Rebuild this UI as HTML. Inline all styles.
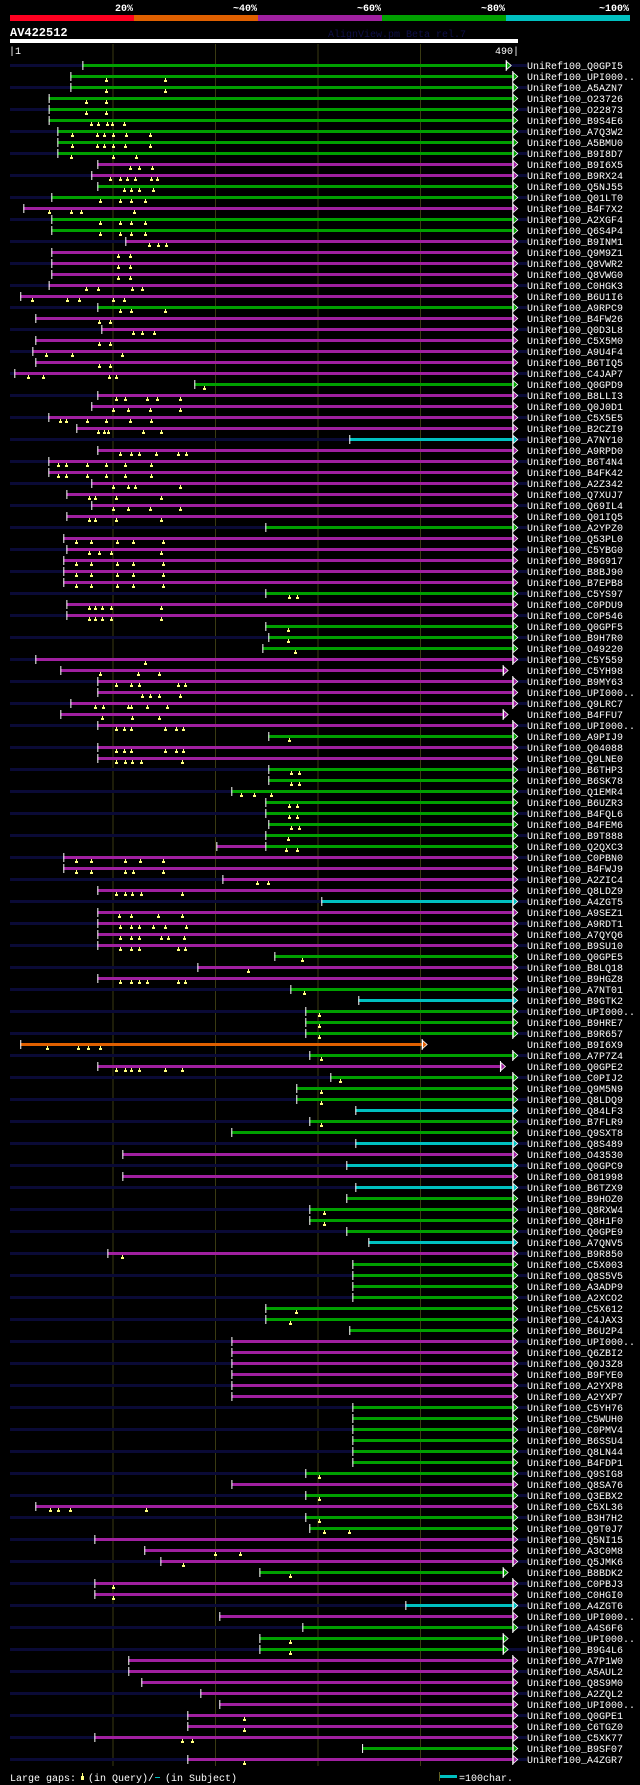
<!DOCTYPE html>
<html><head><meta charset="utf-8"><style>
html,body{margin:0;padding:0;background:#000;}
svg{display:block;}
text{font-family:"Liberation Mono",monospace;}
</style></head><body>
<svg id="chart" width="640" height="1785" viewBox="0 0 640 1785" xmlns="http://www.w3.org/2000/svg">
<rect x="0" y="0" width="640" height="1785" fill="#000"/>
<g>
<rect x="10" y="15" width="124" height="6" fill="#ff0020"/>
<rect x="134" y="15" width="124" height="6" fill="#e06000"/>
<rect x="258" y="15" width="124" height="6" fill="#a020a0"/>
<rect x="382" y="15" width="124" height="6" fill="#00a000"/>
<rect x="506" y="15" width="124" height="6" fill="#00c0c0"/>
<text x="133" y="11" fill="#fff" font-size="10" font-weight="bold" text-anchor="end">20%</text>
<text x="257" y="11" fill="#fff" font-size="10" font-weight="bold" text-anchor="end">~40%</text>
<text x="381" y="11" fill="#fff" font-size="10" font-weight="bold" text-anchor="end">~60%</text>
<text x="505" y="11" fill="#fff" font-size="10" font-weight="bold" text-anchor="end">~80%</text>
<text x="629" y="11" fill="#fff" font-size="10" font-weight="bold" text-anchor="end">~100%</text>
</g>
<text x="10" y="36" fill="#fff" font-size="12" font-weight="bold">AV422512</text>
<text x="328" y="37" fill="#101048" font-size="10">AlignView.pm Beta rel.7</text>
<rect x="10" y="39" width="508" height="4" fill="#fff"/>
<text x="9" y="54" fill="#fff" font-size="10">|1</text>
<text x="519" y="54" fill="#fff" font-size="10" text-anchor="end">490|</text>
<g id="grid"></g>
<g id="rows"></g>
<g>
<text x="10" y="1781" fill="#fff" font-size="10">Large gaps:</text>
<rect x="82" y="1773" width="1" height="3" fill="#ffff80"/>
<rect x="81" y="1776" width="3" height="4" fill="#ffff80"/>
<text x="88" y="1781" fill="#fff" font-size="10">(in Query)/</text>
<rect x="155" y="1777" width="5" height="1" fill="#00c0c0"/>
<text x="165" y="1781" fill="#fff" font-size="10">(in Subject)</text>
<rect x="439" y="1772" width="1" height="9" fill="#606020"/>
<rect x="440" y="1775" width="17" height="3" fill="#00c0c0"/>
<text x="459" y="1781" fill="#fff" font-size="10">=100char.</text>
</g>
</svg>
<script>
const names = ["Q0GPI5","UPI000..","A5AZN7","O23726","O22873","B9S4E6","A7Q3W2","A5BMU0","B9I8D7","B9I6X5","B9RX24","Q5NJ55","Q01LT0","B4F7X2","A2XGF4","Q6S4P4","B9INM1","Q9M9Z1","Q8VWR2","Q8VWG0","C0HGK3","B6U1I6","A9RPC9","B4FW26","Q0D3L8","C5X5M0","A9U4F4","B6TIQ5","C4JAP7","Q0GPD9","B8LLI3","Q0J0D1","C5X5E5","B2CZI9","A7NY10","A9RPD0","B6T4N4","B4FK42","A2Z342","Q7XUJ7","Q69IL4","Q01IQ5","A2YPZ0","Q53PL0","C5YBG0","B9G917","B8BJ90","B7EPB8","C5YS97","C0PDU9","C0P546","Q0GPF5","B9H7R0","O49220","C5Y559","C5YH98","B9MY63","UPI000..","Q9LRC7","B4FFU7","UPI000..","A9PIJ9","Q04088","Q9LNE0","B6THP3","B6SK78","Q1EMR4","B6UZR3","B4FQL6","B4FEM6","B9T888","Q2QXC3","C0PBN0","B4FWJ9","A2ZIC4","Q8LDZ9","A4ZGT5","A9SEZ1","A9RDT1","A7QYQ6","B9SU10","Q0GPE5","B8LQ18","B9HGZ8","A7NT01","B9GTK2","UPI000..","B9HRE7","B9R657","B9I6X9","A7P7Z4","Q0GPE2","C0PIJ2","Q9M5N9","Q8LDQ9","Q84LF3","B7FLR9","Q9SXT8","Q8S489","O43530","Q0GPC9","O81998","B6TZX9","B9HOZ0","Q8RXW4","Q8H1F0","Q0GPE9","A7QNV5","B9R850","C5X003","Q8S5V5","A3ADP9","A2XCO2","C5X612","C4JAX3","B6U2P4","UPI000..","Q6ZBI2","Q0J3Z8","B9FYE0","A2YXP8","A2YXP7","C5YH76","C5WUH0","C0PMV4","B6SSU4","Q8LN44","B4FDP1","Q9SIG8","Q8SA76","Q3EBX2","C5XL36","B3H7H2","Q9T0J7","Q5NI15","A3C0M8","Q5JMK6","B8BDK2","C0PBJ3","C0HGI0","A4ZGT6","UPI000..","A4S6F6","UPI000..","B9G4L6","A7P1W0","A5AUL2","Q8S9M0","A2ZQL2","UPI000..","Q0GPE1","C6TGZ0","C5XK77","B9SF07","A4ZGR7"];
const starts = [70.6,58.9,58.9,37.7,37.7,37.7,46.2,46.2,46.2,85.2,79.3,85.2,40.3,13,40.3,40.3,112.5,40.3,40.3,40.3,37.7,10,85.2,24.7,89.1,24.7,21.8,24.7,4.2,179.8,85.2,79.3,37.4,64.7,331,85.2,37.4,37.4,79.3,55,79.3,55,249.1,52,55,52,52,52,249.1,55,55,249.1,252,246.2,24.7,49.1,85.2,85.2,58.9,49.1,85.2,252,85.2,85.2,252,252,215.9,249.1,249.1,252,249.1,249.1,52,52,207.2,85.2,303.7,85.2,85.2,85.2,85.2,257.9,182.8,85.2,273.5,339.8,288.1,288.1,288.1,10,292,85.2,312.5,279.3,279.3,336.9,292,215.9,336.9,109.6,328.1,109.6,336.9,328.1,292,292,328.1,349.6,95,334,334,334,334,249.1,249.1,331,216,216,216,216,216,216,334,334,334,334,334,334,288.1,216,288.1,24.7,288.1,292,82.3,131,146.7,243.3,82.3,82.3,385.7,204.2,285.2,243.3,243.3,115.4,115.4,128.1,185.7,204.2,173,173,82.3,343.5,173];
const ends = {0:483.6,55:480.6,59:480.6,89:401.6,91:478,137:480.6,143:480.6,144:480.6};
const colorCodes = "GGGGGGGGGM"+"MGGMGGMMMM"+"MMGMMMMMMG"+"MMMMCMMMMM"+"MMGMMMMMGM"+"MGGGMMMMMM"+"MGMMGGGGGG"+"GGMMMMCMMM"+"MGMMGCGGGO"+"GMGGGCGGCM"+"CMCGGGGCMG"+"GGGGGGMMMM"+"MMGGGGGGGM"+"GMGGMMMGMM"+"CMGGGMMMMM"+"MMMGM";
const preSegments = {71:[201.3,249.1]};
const markers = {0:[],1:[94,151.5],2:[94,151.5],3:[74.5,94],4:[74.5,94],5:[79.3,86.2,95,99.8,111.5],6:[60.8,85.2,92,100.8,113.5,137],7:[60.8,85.2,92,100.8,112.5,137],8:[59.8,100.8,123.3],9:[117.4,126.2,138.9],10:[97.9,107.6,114.5,122.3,137.9,143.7],11:[111.5,118.4,126.2,139.8],12:[88.1,107.6,118.4,132],13:[38.4,59.8,69.6,121.3],14:[88.1,107.6,118.4,132],15:[88.1,107.6,118.4,132],16:[136,144.7,152.5],17:[105.7,117.4],18:[105.7,117.4],19:[105.7,117.4],20:[74.5,86.2,119.3,129.1],21:[21.8,55.9,67.6,100.8,111.5],22:[107.6,118.4,151.5],23:[87.2,97.9],24:[120.3,129.1,140.8],25:[87.2,97.9],26:[35.4,60.8,109.6],27:[87.2,97.9],28:[17.9,32.5,96.9,103.7],29:[189.6],30:[103.7,112.5,134,143.7,166.2],31:[100.8,115.4,136.9,166.2],32:[49.1,55,75.4,94,117.4,137.9],33:[86.2,92,95.9,130.1,147.6],35:[107.6,118.4,126.2,142.8,164.2,172],36:[47.2,55,75.4,94,112.5,137.9],37:[47.2,55,75.4,94,112.5,137.9],38:[100.8,115.4,122.3,166.2],39:[77.4,83.3,103.7,147.6],40:[100.8,115.4,136.9,166.2],41:[77.4,83.3,103.7,147.6],43:[64.7,79.3,104.7,120.3,149.6],44:[77.4,87.2,98.9,147.6],45:[64.7,79.3,104.7,120.3,149.6],46:[64.7,79.3,104.7,120.3,149.6],47:[64.7,79.3,104.7,120.3,149.6],48:[272.5,280.3],49:[77.4,83.3,90.1,98.9,147.6],50:[77.4,83.3,90.1,98.9,147.6],51:[271.5],52:[271.5],53:[278.4],54:[132],55:[88.1,125.2,145.7],56:[103.7,118.4,126.2,164.2,171],57:[129.1,136.9,145.7,166.2],58:[83.3,91.1,115.4,118.4,134,153.5],59:[90.1,119.3,145.7],60:[103.7,111.5,118.4,151.5,162.3,169.1],61:[272.5],62:[103.7,111.5,118.4,151.5,162.3,169.1],63:[103.7,112.5,119.3,128.1,168.1],64:[274.5,282.3],65:[274.5,282.3],66:[225.7,238.4,255],67:[272.5,280.3],68:[272.5,280.3],69:[274.5,282.3],70:[271.5],71:[269.6,280.3],72:[64.7,79.3,112.5,127.2,149.6],73:[64.7,79.3,112.5,120.3,149.6],74:[241.3,252],75:[103.7,112.5,119.3,128.1,168.1],77:[106.7,118.4,144.7,168.1],78:[107.6,118.4,126.2,139.8,151.5,172],79:[107.6,118.4,126.2,147.6,154.5,170.1],80:[107.6,118.4,126.2,164.2,171],81:[285.2],82:[232.5],83:[107.6,118.4,126.2,134,164.2,171],84:[287.2],86:[301.8],87:[301.8],88:[301.8],89:[36.4,66.7,76.4,88.1],90:[303.7],91:[103.7,112.5,118.4,126.2,151.5,168.1],92:[322.3],93:[303.7],94:[303.7],96:[303.7],104:[306.7],105:[306.7],108:[109.6],113:[279.3],114:[273.5],128:[301.8],130:[301.8],131:[39.3,47.2,58.9,133],132:[301.8],133:[306.7,331],135:[200.3,224.7],136:[169.1],137:[273.5],138:[100.8],139:[100.8],143:[273.5],144:[273.5],150:[228.6],151:[228.6],152:[168.1,177.9],154:[228.6]};
const gridTicks = [100,200,300,400];
const queryLength = 490;

const NS = "http://www.w3.org/2000/svg";
const X0 = 10, KX = 1.025, Y0 = 65, ROWH = 11;
function xScale(p){ return X0 + p*KX; }
function yScale(i){ return Y0 + i*ROWH; }
const palette = {G:"#00a000",M:"#a020a0",C:"#00c0c0",O:"#e06000"};
function mk(tag, attrs, parent){
  const el = document.createElementNS(NS, tag);
  for (const k in attrs) el.setAttribute(k, attrs[k]);
  parent.appendChild(el);
  return el;
}
const grid = document.getElementById('grid');
gridTicks.forEach(t => {
  const l = mk('line', {x1:xScale(t)+0.5, x2:xScale(t)+0.5, y1:44, y2:1766, stroke:"#3a3a12", 'stroke-width':1}, grid);
  
  
});
const rows = document.getElementById('rows');
names.forEach((nm, i) => {
  const y = yScale(i);
  const g = mk('g', {}, rows);
  
  
  if (i % 2 === 0) {
    const s = mk('rect', {x:10, y:y-1, width:517, height:3, fill:"#0a0a36"}, g);
    
    
  }
  const col = palette[colorCodes[i]] || palette.M;
  const sp = starts[i];
  const ep = (ends[i] !== undefined) ? ends[i] : queryLength;
  const xs = xScale(sp), xe = xScale(ep);
  if (preSegments[i]) {
    const ps = preSegments[i];
    const pr = mk('rect', {x:xScale(ps[0]), y:y-1, width:xScale(ps[1])-xScale(ps[0]), height:3, fill:palette.M}, g);
    
    
    const pt = mk('rect', {x:xScale(ps[0]), y:y-4, width:1, height:9, fill:"#fff"}, g);
    
    
  }
  const bar = mk('rect', {x:xs, y:y-1, width:xe-xs, height:3, fill:col}, g);
  
  
  const st = mk('rect', {x:xs, y:y-4, width:1, height:9, fill:"#fff"}, g);
  
  
  const et = mk('rect', {x:xe, y:y-5, width:1, height:11, fill:"#fff"}, g);
  
  
  const tri = mk('polygon', {points:(xe+1)+","+(y-3.5)+" "+(xe+5.5)+","+(y+0.5)+" "+(xe+1)+","+(y+4.5), fill:col, stroke:"#fff", 'stroke-width':0.8}, g);
  
  
  (markers[i] || []).forEach(m => {
    const mx = Math.round(xScale(m));
    const a = mk('rect', {x:mx, y:y+2, width:1, height:2, fill:"#ffff80"}, g);
    
    
    const b = mk('rect', {x:mx-1, y:y+4, width:3, height:2, fill:"#ffff80"}, g);
    
    
  });
  const t = mk('text', {x:527, y:y+4, fill:"#fff", 'font-size':10}, g);
  t.textContent = "UniRef100_" + nm;
  
  
});
</script>
</body></html>
